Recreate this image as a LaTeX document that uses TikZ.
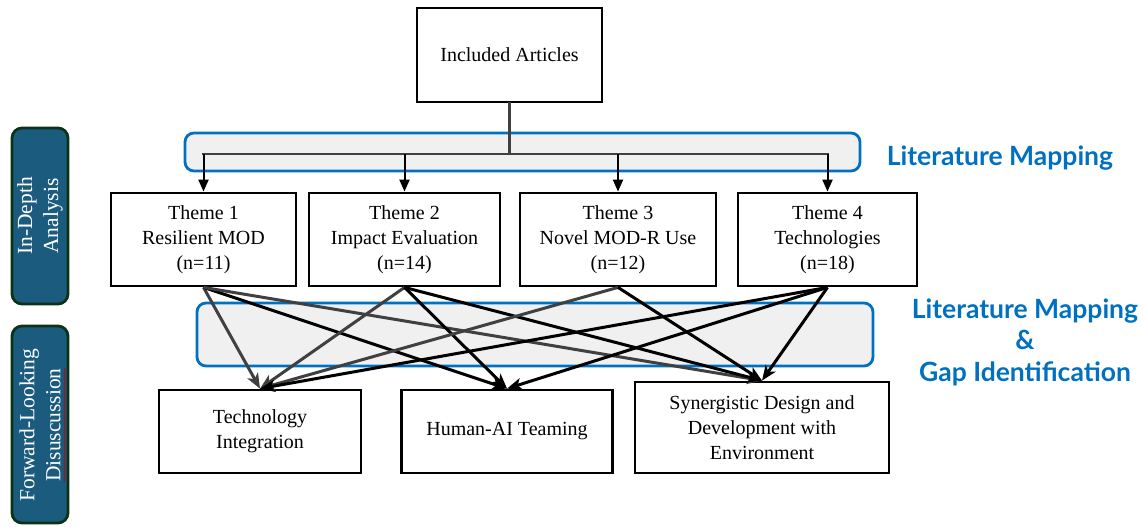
\documentclass[tikz,border=0pt]{standalone}
\usepackage{fontspec}
\setmainfont{Liberation Serif}
\newfontfamily\labelfont{Lato}
\usetikzlibrary{arrows.meta,decorations.pathmorphing}
\definecolor{lmblue}{HTML}{0070C0}
\definecolor{lanegray}{HTML}{F0F0F0}
\definecolor{sideblue}{HTML}{1B5C7E}
\definecolor{sidegreen}{HTML}{0B3319}
\definecolor{busgray}{HTML}{404040}
\definecolor{wgray}{HTML}{404040}
\tikzset{
  box/.style={draw, line width=2.8pt, fill=white, align=center, inner sep=0pt,
    font=\fontsize{20}{25}\selectfont},
  lane/.style={draw=lmblue, line width=2.8pt, fill=lanegray, rounded corners=9pt},
  sidebox/.style={draw=sidegreen, fill=sideblue, line width=2.8pt, rounded corners=10pt},
  sidetext/.style={text=white, align=center, rotate=90, inner sep=0pt,
    font=\fontsize{21.5}{26}\selectfont},
  bus/.style={draw=busgray, line width=2.2pt, line cap=rect},
  drop/.style={draw=black, line width=2pt, -{Triangle[length=12pt,width=10pt]}},
  wire/.style={line width=3pt, -{Stealth[length=15pt,width=12pt,inset=4pt]}},
  wiregray/.style={wire, draw=wgray},
  wireblack/.style={wire, draw=black},
  maplabel/.style={font=\labelfont\bfseries\fontsize{26.5}{31.5}\selectfont,
    text=lmblue, align=center, inner sep=0pt},
}
\begin{document}
\begin{tikzpicture}[x=1pt,y=-1pt]
\useasboundingbox (0,0) rectangle (1143,527);
% side boxes
\draw[sidebox] (12,128) rectangle (68,304);
\draw[sidebox] (12,326) rectangle (68,523);
\node[sidetext] (sideA) at (40,216) {In-Depth\\Analysis};
\node[sidetext] (sideB) at (40,425) {Forward-Looking\\Disuscussion};
\draw[red!75!black, line width=0.6pt, decorate,
  decoration={snake, amplitude=0.7pt, segment length=3pt}] (64.5,482) -- (64.5,368);
% lanes
\draw[lane] (185,133) rectangle (860,171);
\draw[lane] (197,303) rectangle (873,366);
% labels
\node[maplabel] (lab1) at (1000,158) {Literature Mapping};
\node[maplabel] (lab2) at (1025,342) {Literature Mapping\\\&\\Gap Identification};
% boxes
\node[box, minimum width=185pt, minimum height=94pt] (ia) at (509.5,55) {Included Articles};
\node[box, minimum width=185pt, minimum height=93pt] (t1) at (203.5,239.5) {Theme 1\\Resilient MOD\\(n=11)};
\node[box, minimum width=191pt, minimum height=93pt] (t2) at (404.5,239.5) {Theme 2\\Impact Evaluation\\(n=14)};
\node[box, minimum width=196pt, minimum height=93pt] (t3) at (618,239.5) {Theme 3\\Novel MOD-R Use\\(n=12)};
\node[box, minimum width=179pt, minimum height=93pt] (t4) at (827.5,239.5) {Theme 4\\Technologies\\(n=18)};
\node[box, minimum width=202pt, minimum height=83pt] (ti) at (260,431.5) {Technology\\Integration};
\node[box, minimum width=211pt, minimum height=83pt] (ha) at (507,431.5) {Human-AI Teaming};
\node[box, minimum width=254pt, minimum height=91pt] (syn) at (762,427.5) {Synergistic Design and\\Development with\\Environment};
% bus
\coordinate (bus) at (509.5,154);
\draw[bus] (ia.south) -- (bus);
\draw[bus] (t1.north |- bus) -- (t4.north |- bus);
\foreach \t in {t1,t2,t3,t4} \draw[drop] (\t.north |- bus) -- (\t.north);
% cross connections
\draw[wiregray] (t1.south) -- (ti.north);
\draw[wireblack] (t1.south) -- (ha.north);
\draw[wiregray] (t1.south) -- (syn.north);
\draw[wiregray] (t2.south) -- (ti.north);
\draw[wireblack] (t2.south) -- (ha.north);
\draw[wireblack] (t2.south) -- (syn.north);
\draw[wiregray] (t3.south) -- (ti.north);
\draw[wireblack] (t3.south) -- (syn.north);
\draw[wireblack] (t4.south) -- (ti.north);
\draw[wireblack] (t4.south) -- (ha.north);
\draw[wireblack] (t4.south) -- (syn.north);
\end{tikzpicture}
\end{document}
